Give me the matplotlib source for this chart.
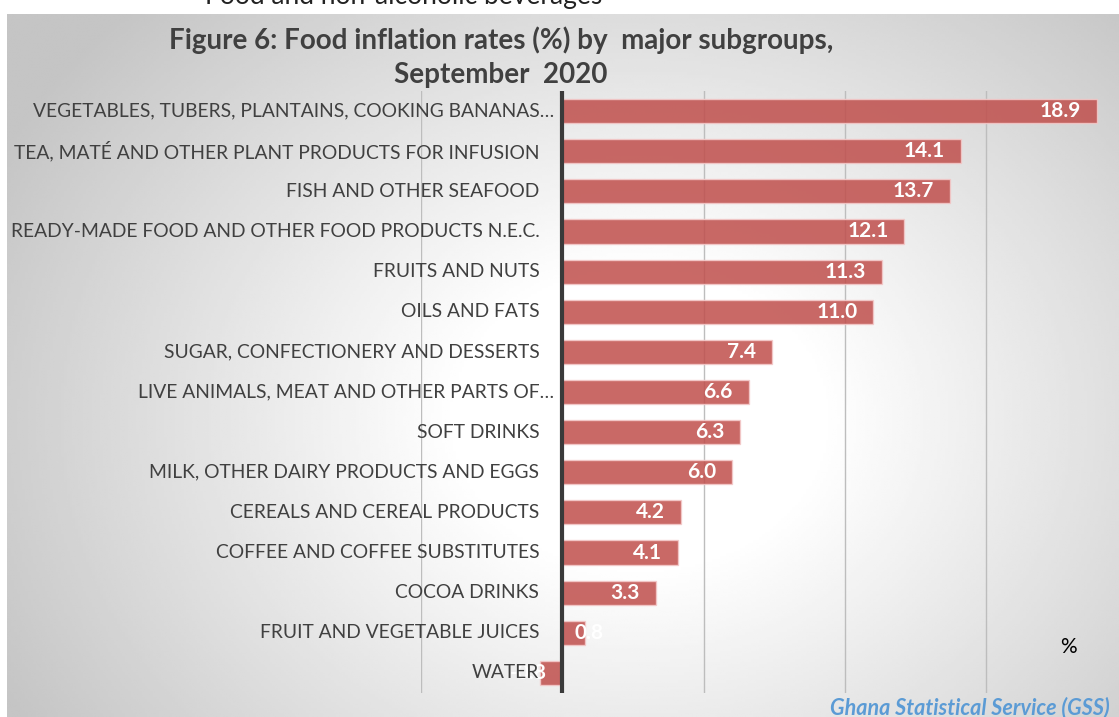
import numpy as np
import matplotlib
matplotlib.use("Agg")
import matplotlib.pyplot as plt
from matplotlib import transforms

# data, top to bottom as in the chart
categories = [
    "VEGETABLES, TUBERS, PLANTAINS, COOKING BANANAS\u2026",
    "TEA, MAT\u00c9 AND OTHER PLANT PRODUCTS FOR INFUSION",
    "FISH AND OTHER SEAFOOD",
    "READY-MADE FOOD AND OTHER FOOD PRODUCTS N.E.C.",
    "FRUITS AND NUTS",
    "OILS AND FATS",
    "SUGAR, CONFECTIONERY AND DESSERTS",
    "LIVE ANIMALS, MEAT AND OTHER PARTS OF\u2026",
    "SOFT DRINKS",
    "MILK, OTHER DAIRY PRODUCTS AND EGGS",
    "CEREALS AND CEREAL PRODUCTS",
    "COFFEE AND COFFEE SUBSTITUTES",
    "COCOA DRINKS",
    "FRUIT AND VEGETABLE JUICES",
    "WATER",
]
rates = [18.9, 14.1, 13.7, 12.1, 11.3, 11.0, 7.4, 6.6, 6.3, 6.0, 4.2, 4.1, 3.3, 0.8, -0.8]
xticks = [-5, 0, 5, 10, 15]

W, H = 1119, 717
FONT = "Lato"
plt.rcParams["font.family"] = [FONT, "DejaVu Sans"]

fig = plt.figure(figsize=(W / 100, H / 100), dpi=100)
fig.patch.set_facecolor("white")

# radial grey gradient background of the chart box
bg = fig.add_axes([7 / W, 0, 1 - 7 / W, 1 - 14 / H], zorder=0)
gx, gy = np.meshgrid(np.linspace(7, W, 400), np.linspace(14, H, 260))
r = np.sqrt(((gx - 640) / 520) ** 2 + ((gy - 420) / 420) ** 2)
val = np.clip(1 - 0.22 * (r - 0.35), 0.77, 1.0)
bg.imshow(val, cmap="gray", vmin=0, vmax=1, aspect="auto",
          extent=[0, 1, 0, 1], interpolation="bilinear")
bg.set_axis_off()

# caption of the previous block, cut off by the top edge
fig.text(404 / W, 1 - 4 / H, "Food and non-alcoholic beverages", ha="center",
         va="baseline", fontsize=19, color="#222222")

ax = fig.add_axes([421 / W, 1 - 693 / H, (1108 - 421) / W, (693 - 91) / H], zorder=1)
ax.set_facecolor("none")

y = np.arange(len(categories))
ax.barh(y, rates, height=0.6, color="#C0504D", alpha=0.86,
        edgecolor="#F4CACA", linewidth=1.0, zorder=2)
ax.set_xlim(-5, 19.3)
ax.set_ylim(len(categories) - 0.5, -0.5)
ax.set_xticks(xticks)
ax.grid(axis="x", color="#BDBDBD", linewidth=1, zorder=0)
ax.set_axisbelow(True)
ax.tick_params(left=False, bottom=False, labelleft=False, labelbottom=False)
for s in ax.spines.values():
    s.set_visible(False)
ax.axvline(0, color="#3A3A3A", linewidth=3, zorder=4)

# category labels left of the zero line (drawn above the value labels)
for yi, name in zip(y, categories):
    pad = -8 if name.endswith("\u2026") else -23
    off = transforms.offset_copy(ax.transData, fig=fig, x=pad * 0.72, y=0, units="points")
    ax.text(0, yi, name, transform=off, ha="right", va="center",
            fontsize=13.9, color="#404040", zorder=5)

# value labels (white, inside end; short bars anchored at the base)
for yi, v in zip(y, rates):
    if abs(v) < 2:
        anchor = 0
        xo, ha = (12, "left") if v >= 0 else (-16, "right")
    else:
        anchor = v
        xo, ha = -16, "right"
    ax.annotate(f"{v:.1f}", (anchor, yi), xytext=(xo * 0.72, 0),
                textcoords="offset points", ha=ha, va="center", fontsize=15,
                fontweight="bold", color="white", zorder=3)

fig.text(501 / W, 1 - 40 / H, "Figure 6: Food inflation rates (%) by  major subgroups,",
         ha="center", va="center", fontsize=20, fontweight="bold", color="#404040")
fig.text(501 / W, 1 - 75 / H, "September  2020", ha="center", va="center",
         fontsize=20, fontweight="bold", color="#404040")

fig.text(1068 / W, 1 - 647 / H, "%", ha="center", va="center", fontsize=15, color="black")
fig.text(1110 / W, 1 - 708 / H, "Ghana Statistical Service (GSS)", ha="right",
         va="center", fontsize=15.5, fontweight="bold", style="italic", color="#5B9BD5")

fig.savefig("out.png", dpi=100)
